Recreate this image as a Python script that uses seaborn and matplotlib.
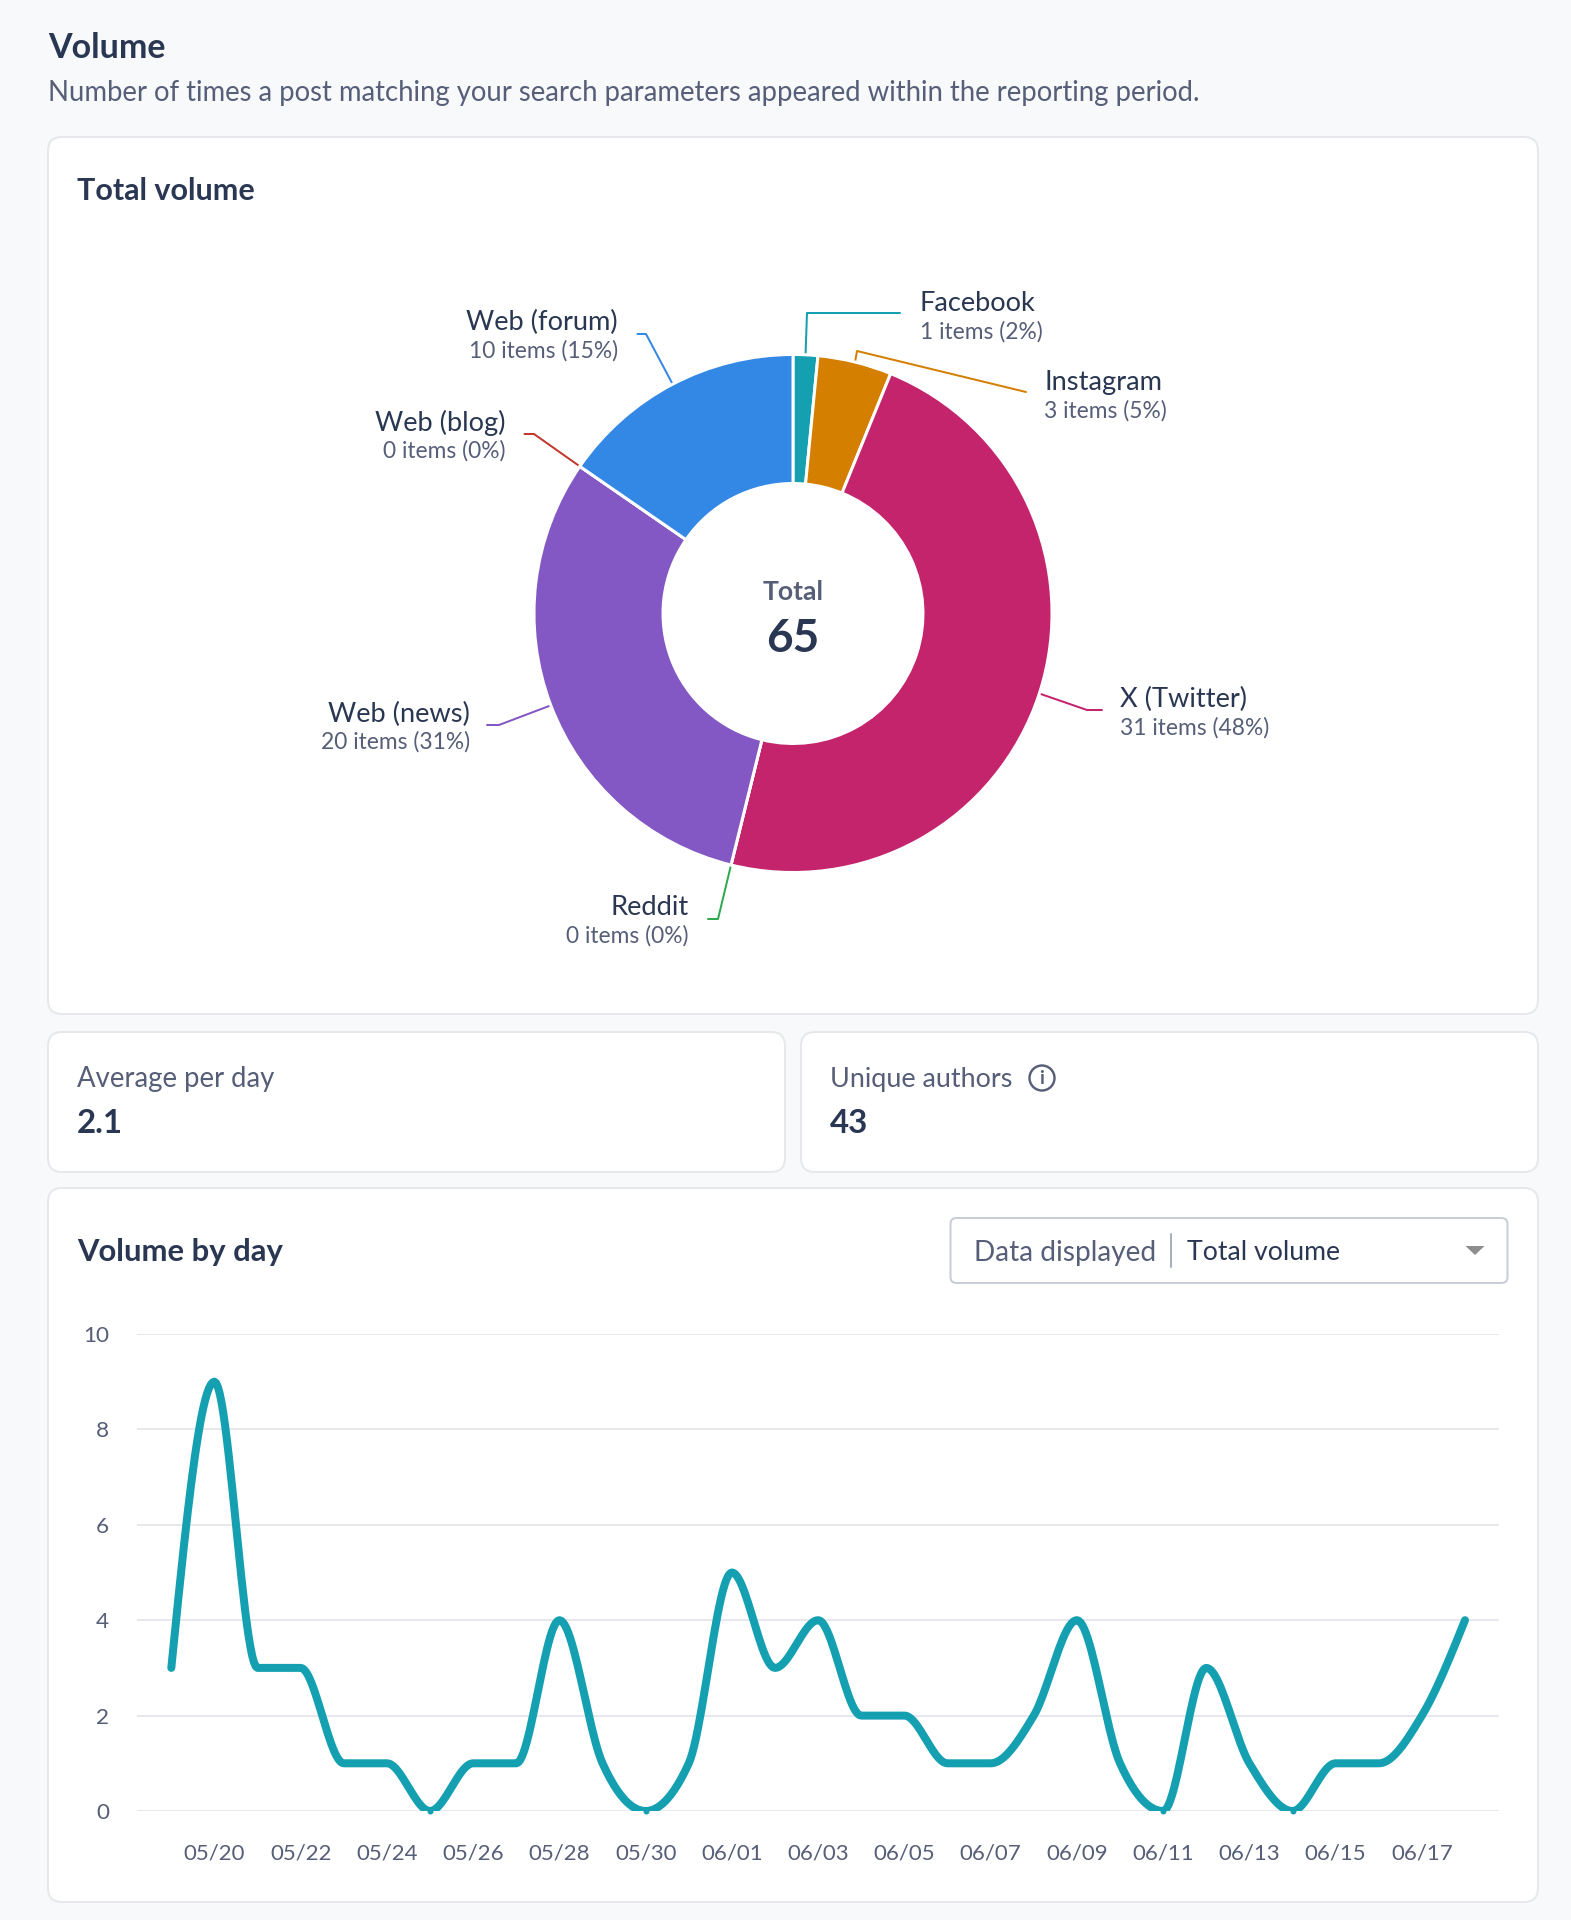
import numpy as np
import pandas as pd
import matplotlib
matplotlib.use("Agg")
import matplotlib.pyplot as plt
from matplotlib.patches import FancyBboxPatch, Circle, Polygon
import seaborn as sns

# ---------- data ----------
platforms = ["Facebook", "Instagram", "X (Twitter)", "Reddit", "Web (news)", "Web (blog)", "Web (forum)"]
items = [1, 3, 31, 0, 20, 0, 10]
percents = [2, 5, 48, 0, 31, 0, 15]
platform_colors = ["#14A0B1", "#D47F00", "#C4246C", "#2FA84F", "#8358C4", "#C0392B", "#3388E6"]
total_items = 65
days = list(range(31))
daily_volume = [3, 9, 3, 3, 1, 1, 0, 1, 1, 4, 1, 0, 1, 5, 3, 4, 2, 2, 1, 1, 2, 4, 1, 0, 3, 1, 0, 1, 1, 2, 4]
tick_days = list(range(1, 31, 2))
tick_labels = ["05/20", "05/22", "05/24", "05/26", "05/28", "05/30", "06/01", "06/03",
               "06/05", "06/07", "06/09", "06/11", "06/13", "06/15", "06/17"]
y_ticks = [0, 2, 4, 6, 8, 10]

# ---------- style ----------
W, H = 1571, 1920
BG = "#F8F9FA"
BORDER = "#E6E8EB"
DARK = "#2A3752"
MUTED = "#565E78"
LINE = "#14A0B1"
sns.set_theme(style="white")
plt.rcParams["font.family"] = ["Lato", "DejaVu Sans"]

fig = plt.figure(figsize=(W / 100, H / 100), dpi=100, facecolor=BG)
bg = fig.add_axes([0, 0, 1, 1])
bg.set_xlim(0, W)
bg.set_ylim(H, 0)
bg.axis("off")


def px(v):
    return v * 0.72


def card(x0, y0, x1, y1, r=14):
    bg.add_patch(FancyBboxPatch((x0, y0), x1 - x0, y1 - y0,
                                boxstyle=f"round,pad=0,rounding_size={r}",
                                fc="white", ec=BORDER, lw=px(2)))


def label(x, y, s, size, color=DARK, weight="normal", ha="left"):
    bg.text(x, y + 2.5, s, fontsize=px(size), color=color, fontweight=weight, ha=ha, va="center")


# ---------- cards and headings ----------
card(48, 137, 1538, 1014)
card(48, 1032, 785, 1172)
card(801, 1032, 1538, 1172)
card(48, 1188, 1538, 1902)

label(48, 45, "Volume", 34, weight="bold")
label(48, 91, "Number of times a post matching your search parameters appeared within the reporting period.",
      27.5, color=MUTED)
label(77, 188.5, "Total volume", 30.5, weight="bold")
label(77, 1077, "Average per day", 27.5, color=MUTED)
label(77, 1121, "2.1", 33, weight="bold")
label(830, 1077, "Unique authors", 27, color=MUTED)
label(830, 1121, "43", 33, weight="bold")
bg.add_patch(Circle((1042, 1078), 12.5, fc="none", ec=MUTED, lw=px(2.4)))
bg.text(1042, 1079, "i", fontsize=px(19), color=MUTED, fontweight="bold", ha="center", va="center")
label(77, 1250, "Volume by day", 31, weight="bold")

# dropdown
bg.add_patch(FancyBboxPatch((950.5, 1218), 557, 65, boxstyle="round,pad=0,rounding_size=6",
                            fc="white", ec="#C9CDD6", lw=px(2)))
bg.plot([1171, 1171], [1234, 1267], color="#A9AEBD", lw=px(2))
label(974, 1250, "Data displayed", 28, color=MUTED)
label(1187.5, 1250, "Total volume", 26.6)
bg.add_patch(Polygon([(1465.5, 1246), (1484.5, 1246), (1475, 1255)], closed=True, fc="#8D8D8D", ec="none"))

# ---------- donut ----------
CX, CY, R, r_in = 793, 613.5, 259, 130
pad = 1.06
ax_pie = fig.add_axes([(CX - R * pad) / W, 1 - (CY + R * pad) / H, 2 * R * pad / W, 2 * R * pad / H])
ax_pie.pie(items, colors=platform_colors, startangle=90, counterclock=False, radius=1,
           wedgeprops=dict(width=(R - r_in) / R, edgecolor="white", linewidth=px(3)))
ax_pie.set_xlim(-pad, pad)
ax_pie.set_ylim(-pad, pad)
label(CX, 590, "Total", 26.5, color=MUTED, weight="bold", ha="center")
label(CX, 637, str(total_items), 46, weight="bold", ha="center")

# leader elbows and label anchors per platform
elbows = [(807, 313), (857, 351), (1087, 710), (718, 919), (499, 725), (534, 434), (646, 334)]
ends = [(900, 313), (1026, 392), (1102, 710), (708, 919), (487, 725), (524.5, 434), (637.5, 334)]
anchors = [(920, 301, "left"), (1044.5, 380, "left"), (1120, 697, "left"), (689, 905, "right"),
           (470, 711.5, "right"), (506, 420, "right"), (618, 320, "right")]
cum = 0
for name, n, pct, col, elbow, end, (ax_, ay_, ha_) in zip(platforms, items, percents, platform_colors,
                                                         elbows, ends, anchors):
    mid = np.deg2rad((cum + n / 2) / total_items * 360)
    cum += n
    sx, sy = CX + (R + 1) * np.sin(mid), CY - (R + 1) * np.cos(mid)
    bg.plot([sx, elbow[0], end[0]], [sy, elbow[1], end[1]], color=col, lw=px(2), solid_joinstyle="round")
    label(ax_, ay_, name, 27.3, ha=ha_)
    label(ax_, ay_ + 28, f"{n} items ({pct}%)", 22.7, color=MUTED, ha=ha_)


# ---------- line chart ----------
def monotone_curve(xs, ys, per_seg=24):
    """Monotone cubic path through the data, as the original chart's line renderer draws it."""
    xs, ys = np.asarray(xs, float), np.asarray(ys, float)
    h = np.diff(xs)
    s = np.diff(ys) / h
    t = np.zeros_like(xs)
    for i in range(1, len(xs) - 1):
        p = (s[i - 1] * h[i] + s[i] * h[i - 1]) / (h[i - 1] + h[i])
        t[i] = (np.sign(s[i - 1]) + np.sign(s[i])) * min(abs(s[i - 1]), abs(s[i]), 0.5 * abs(p))
    t[0] = (3 * s[0] - t[1]) / 2
    t[-1] = (3 * s[-1] - t[-2]) / 2
    u = np.linspace(0, 1, per_seg, endpoint=False)
    out_x, out_y = [], []
    for i in range(len(h)):
        a = u * u * (3 - 2 * u)
        out_x.append(xs[i] + u * h[i])
        out_y.append(ys[i] * (1 - a) + ys[i + 1] * a
                     + t[i] * h[i] * u * (1 - u) ** 2 - t[i + 1] * h[i] * u * u * (1 - u))
    out_x.append(xs[-1:])
    out_y.append(ys[-1:])
    return np.concatenate(out_x), np.concatenate(out_y)


L, Rgt, Y0, Y10 = 137, 1499, 1811, 1334
day_px = 43.13
ax = fig.add_axes([L / W, 1 - Y0 / H, (Rgt - L) / W, (Y0 - Y10) / H], facecolor="none")
smooth_x, smooth_y = monotone_curve(days, daily_volume)
curve = pd.DataFrame({"day": smooth_x, "volume": smooth_y})
points = pd.DataFrame({"day": days, "volume": daily_volume})
# the stroke is cut off at the zero line, with a small dot left at each zero day
sns.lineplot(data=curve, x="day", y="volume", ax=ax, color=LINE, lw=px(8), estimator=None, sort=False,
             solid_capstyle="round", solid_joinstyle="round", zorder=3)
sns.scatterplot(data=points[points["volume"] == 0], x="day", y="volume", ax=ax, color=LINE, s=px(6) ** 2,
                linewidth=0, clip_on=False, zorder=3)
ax.set_xlim(-(171.3 - L) / day_px, 30 + (Rgt - 1465) / day_px)
ax.set_ylim(0, 10)
ax.set_xticks(tick_days, tick_labels)
ax.set_yticks(y_ticks)
ax.set_xlabel("")
ax.set_ylabel("")
ax.grid(axis="y", color="#E6E8EC", lw=px(2))
ax.set_axisbelow(True)
for sp in ax.spines.values():
    sp.set_visible(False)
ax.tick_params(axis="x", length=px(17), width=px(1.8), color="#E2E4E9", labelcolor=MUTED,
               labelsize=px(22.3), pad=px(15.5))
ax.tick_params(axis="y", length=0, labelcolor=MUTED, labelsize=px(22.5), pad=px(28))

fig.savefig("out.png", dpi=100, facecolor=BG)
